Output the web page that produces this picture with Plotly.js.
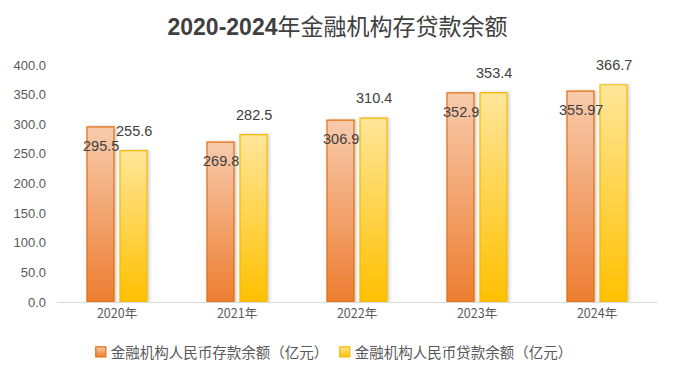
<!DOCTYPE html>
<html>
<head>
<meta charset="utf-8">
<script src="https://cdn.plot.ly/plotly-3.0.1.min.js"></script>
<style>html,body{margin:0;padding:0;background:#fff;}#chart{width:675px;height:376px;}</style>
</head>
<body>
<div id="chart"></div>
<script>
const years = ["2020年", "2021年", "2022年", "2023年", "2024年"];
const deposits = [295.5, 269.8, 306.9, 352.9, 355.97];
const loans = [255.6, 282.5, 310.4, 353.4, 366.7];
const depositLabels = ["295.5", "269.8", "306.9", "352.9", "355.97"];
const loanLabels = ["255.6", "282.5", "310.4", "353.4", "366.7"];
const seriesNames = ["金融机构人民币存款余额（亿元）", "金融机构人民币贷款余额（亿元）"];

const FONT = "Liberation Sans, Arial, 'Noto Sans CJK SC', sans-serif";
const CJK = "'Noto Sans CJK SC', 'Liberation Sans', sans-serif";

const traces = [
  {type: "bar", name: seriesNames[0], x: years, y: deposits, legendwidth: 199,
   marker: {color: "#F0934E", line: {color: "#E46C0A", width: 1.2}}, hoverinfo: "none"},
  {type: "bar", name: seriesNames[1], x: years, y: loans, legendwidth: 235,
   marker: {color: "#FFCF3F", line: {color: "#F5B800", width: 1.2}}, hoverinfo: "none"}
];

const annotations = [];
years.forEach((yr, i) => {
  annotations.push({x: yr, y: deposits[i], xref: "x", yref: "y", text: depositLabels[i],
    showarrow: false, xshift: -16.5, yshift: -19, yanchor: "middle", xanchor: "center",
    font: {family: FONT, size: 14.5, color: "#404040"}});
  annotations.push({x: yr, y: loans[i], xref: "x", yref: "y", text: loanLabels[i],
    showarrow: false, xshift: 16.5, yshift: 20, yanchor: "middle", xanchor: "center",
    font: {family: FONT, size: 14.5, color: "#404040"}});
});

const layout = {
  width: 675, height: 376,
  margin: {l: 57, r: 18, t: 65, b: 74},
  paper_bgcolor: "#fff", plot_bgcolor: "#fff",
  title: {text: "<b>2020-2024</b>年金融机构存贷款余额", x: 0.5, xanchor: "center", y: 0.928, yanchor: "middle",
          font: {family: "Liberation Sans, 'Noto Sans CJK SC', sans-serif", size: 23, color: "#404040"}},
  barmode: "group", bargap: 0.45, bargroupgap: 0.18,
  xaxis: {type: "category", showline: true, linecolor: "#D9D9D9", linewidth: 1.3, ticks: "",
          showgrid: false, zeroline: false, tickfont: {family: CJK, size: 12.5, color: "#595959"}},
  yaxis: {range: [0, 400], dtick: 50, tickformat: ".1f", showline: false, showgrid: false, zeroline: false,
          ticks: "", ticklabelstandoff: 10, tickfont: {family: FONT, size: 13, color: "#595959"}},
  legend: {orientation: "h", x: 0.023, xanchor: "left", y: 0.064, yref: "container", yanchor: "middle",
           font: {family: CJK, size: 14.5, color: "#595959"}},
  annotations: annotations,
  showlegend: true
};

Plotly.newPlot("chart", traces, layout, {staticPlot: true, displayModeBar: false}).then(gd => {
  const svg = gd.querySelector("svg.main-svg");
  const ns = "http://www.w3.org/2000/svg";
  const defs = document.createElementNS(ns, "defs");
  function grad(id, bottom, top) {
    const g = document.createElementNS(ns, "linearGradient");
    g.setAttribute("id", id);
    g.setAttribute("x1", "0"); g.setAttribute("y1", "1");
    g.setAttribute("x2", "0"); g.setAttribute("y2", "0");
    [[0, bottom], [1, top]].forEach(([o, c]) => {
      const s = document.createElementNS(ns, "stop");
      s.setAttribute("offset", o); s.setAttribute("stop-color", c);
      g.appendChild(s);
    });
    defs.appendChild(g);
  }
  grad("gDep", "#ED7D31", "#F8CBAD");
  grad("gLoan", "#FFC000", "#FFE699");
  const f = document.createElementNS(ns, "filter");
  f.setAttribute("id", "shd"); f.setAttribute("x", "-30%"); f.setAttribute("y", "-10%");
  f.setAttribute("width", "160%"); f.setAttribute("height", "120%");
  const ds = document.createElementNS(ns, "feDropShadow");
  ds.setAttribute("dx", "2"); ds.setAttribute("dy", "0"); ds.setAttribute("stdDeviation", "1.5");
  ds.setAttribute("flood-color", "#000"); ds.setAttribute("flood-opacity", "0.18");
  f.appendChild(ds); defs.appendChild(f);
  svg.insertBefore(defs, svg.firstChild);
  const ids = ["gDep", "gLoan"];
  gd.querySelectorAll(".barlayer .trace.bars").forEach((t, i) => {
    t.querySelectorAll(".point path").forEach(p => {
      p.style.fill = "url(#" + ids[i] + ")";
      p.style.filter = "url(#shd)";
    });
  });
  gd.querySelectorAll(".legend .traces").forEach((t, i) => {
    t.querySelectorAll(".legendpoints path").forEach(p => {
      p.style.fill = "url(#" + ids[i] + ")";
      p.setAttribute("d", "M5,5H-5V-5H5Z");
      p.setAttribute("transform", (p.getAttribute("transform") || "") + " translate(10,0)");
    });
  });
});
</script>
</body>
</html>
